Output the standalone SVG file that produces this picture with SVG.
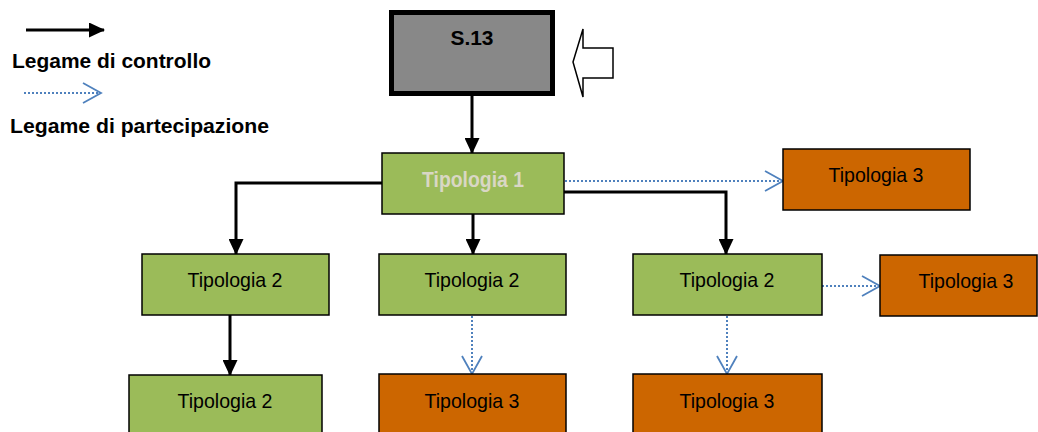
<svg xmlns="http://www.w3.org/2000/svg" width="1038" height="432" viewBox="0 0 1038 432">
<defs>
<style>
.txt{font-family:"Liberation Sans",Arial,sans-serif;text-anchor:middle;}
.legend{font-family:"Liberation Sans",Arial,sans-serif;font-weight:bold;font-size:20px;fill:#000;}
.green{fill:#9bbb59;stroke:#000;stroke-width:1.5;}
.orange{fill:#cc6600;stroke:#000;stroke-width:1.5;}
.lbl{font-family:"Liberation Sans",Arial,sans-serif;font-size:21px;fill:#000;text-anchor:middle;}
.ctrl{fill:none;stroke:#000;stroke-width:3;marker-end:url(#solid);}
.part{fill:none;stroke:#4f81bd;stroke-width:2;stroke-dasharray:2 2;marker-end:url(#open);}
</style>
<marker id="solid" markerUnits="userSpaceOnUse" viewBox="0 0 16 15" markerWidth="16" markerHeight="15" refX="15" refY="7.5" orient="auto">
<path d="M0,0 L16,7.5 L0,15 z" fill="#000"/>
</marker>
<marker id="open" markerUnits="userSpaceOnUse" viewBox="-2 -2 22 24" markerWidth="22" markerHeight="24" refX="18" refY="10" orient="auto" overflow="visible">
<path d="M0,0 L18,10 L0,20" fill="none" stroke="#4f81bd" stroke-width="1.8"/>
</marker>
</defs>

<g id="legend">
<line x1="26" y1="30" x2="104" y2="30" class="ctrl"/>
<text x="12" y="68" class="legend" textLength="199" lengthAdjust="spacingAndGlyphs">Legame di controllo</text>
<line x1="24" y1="93" x2="101" y2="93" class="part"/>
<text x="10" y="133" class="legend" textLength="259" lengthAdjust="spacingAndGlyphs">Legame di partecipazione</text>
</g>

<g id="connectors">
<path d="M472,96 V153" class="ctrl"/>
<path d="M382,183 H236 V254" class="ctrl"/>
<path d="M473,214 V254" class="ctrl"/>
<path d="M564,192 H726 V254" class="ctrl"/>
<path d="M565,181 H783" class="part"/>
<path d="M822,286 H880" class="part"/>
<path d="M230,315 V375" class="ctrl"/>
<path d="M472,316 V374" class="part"/>
<path d="M727,316 V374" class="part"/>
</g>

<g id="s13">
<rect x="391.5" y="12.5" width="161" height="81" fill="#888888" stroke="#000" stroke-width="5"/>
<text x="472" y="45" class="txt" font-weight="bold" font-size="20" textLength="43" lengthAdjust="spacingAndGlyphs">S.13</text>
</g>

<g id="input-arrow">
<polygon points="573,62 583,29 583,48 613,48 613,78 583,78 583,97" fill="#fff" stroke="#000" stroke-width="1.5"/>
</g>

<g id="tipologia1">
<rect x="382" y="153" width="182" height="61" class="green"/>
<text x="473" y="187" class="txt" font-weight="bold" font-size="22" fill="#d9d7c4" textLength="102" lengthAdjust="spacingAndGlyphs">Tipologia 1</text>
</g>

<g id="tipologia3-top">
<rect x="783" y="149" width="187" height="61" class="orange"/>
<text x="876" y="182" class="lbl" textLength="95" lengthAdjust="spacingAndGlyphs">Tipologia 3</text>
</g>

<g id="tipologia2-left">
<rect x="142" y="254" width="187" height="61" class="green"/>
<text x="235" y="287" class="lbl" textLength="95" lengthAdjust="spacingAndGlyphs">Tipologia 2</text>
</g>

<g id="tipologia2-mid">
<rect x="379" y="254" width="187" height="61" class="green"/>
<text x="472" y="287" class="lbl" textLength="95" lengthAdjust="spacingAndGlyphs">Tipologia 2</text>
</g>

<g id="tipologia2-right">
<rect x="633" y="254" width="189" height="61" class="green"/>
<text x="727" y="287" class="lbl" textLength="95" lengthAdjust="spacingAndGlyphs">Tipologia 2</text>
</g>

<g id="tipologia3-right">
<rect x="880" y="255" width="157" height="61" class="orange"/>
<text x="966" y="288" class="lbl" textLength="95" lengthAdjust="spacingAndGlyphs">Tipologia 3</text>
</g>

<g id="tipologia2-bottom">
<rect x="129" y="375" width="193" height="62" class="green"/>
<text x="225" y="408" class="lbl" textLength="95" lengthAdjust="spacingAndGlyphs">Tipologia 2</text>
</g>

<g id="tipologia3-bottom-mid">
<rect x="379" y="374" width="187" height="63" class="orange"/>
<text x="472" y="408" class="lbl" textLength="95" lengthAdjust="spacingAndGlyphs">Tipologia 3</text>
</g>

<g id="tipologia3-bottom-right">
<rect x="633" y="374" width="189" height="63" class="orange"/>
<text x="727" y="408" class="lbl" textLength="95" lengthAdjust="spacingAndGlyphs">Tipologia 3</text>
</g>
</svg>
